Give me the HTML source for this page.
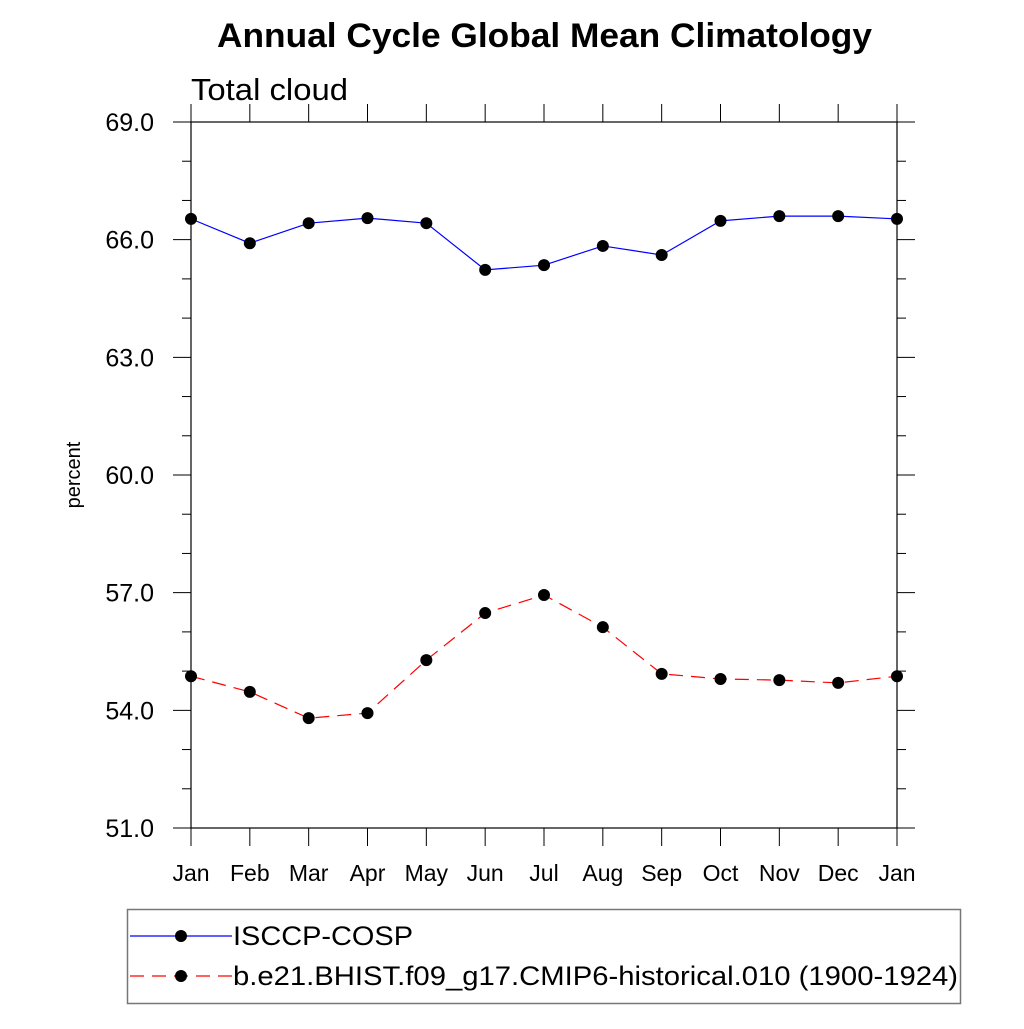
<!DOCTYPE html>
<html><head><meta charset="utf-8"><style>
html,body{margin:0;padding:0;background:#fff;}
svg text{font-family:"Liberation Sans",sans-serif;}
</style></head><body>
<svg id="chart" width="1024" height="1024" viewBox="0 0 1024 1024" xmlns="http://www.w3.org/2000/svg">
<text x="217" y="47" font-size="34" font-weight="bold" textLength="655" lengthAdjust="spacingAndGlyphs">Annual Cycle Global Mean Climatology</text>
<text x="191" y="100" font-size="31" textLength="157" lengthAdjust="spacingAndGlyphs">Total cloud</text>
<text x="80" y="475" font-size="20" text-anchor="middle" transform="rotate(-90 80 475)">percent</text>
<g id="axes"></g>
<g id="series"></g>
<g>
<rect x="127.5" y="909.5" width="833" height="94" fill="none" stroke="#777" stroke-width="1.5"/>
<g>
<line x1="130" y1="936" x2="232" y2="936" stroke="blue" stroke-width="1.2"/>
<circle cx="181" cy="936" r="6" fill="#000"/>
<text x="233" y="945" font-size="27" textLength="180" lengthAdjust="spacingAndGlyphs">ISCCP-COSP</text>
</g>
<g>
<line x1="130" y1="976" x2="232" y2="976" stroke="red" stroke-width="1.2" stroke-dasharray="14,8"/>
<circle cx="181" cy="976" r="6" fill="#000"/>
<text x="233" y="985" font-size="27" textLength="725" lengthAdjust="spacingAndGlyphs">b.e21.BHIST.f09_g17.CMIP6-historical.010 (1900-1924)</text>
</g>
</g>
</svg>
<script>
const months = ["Jan","Feb","Mar","Apr","May","Jun","Jul","Aug","Sep","Oct","Nov","Dec","Jan"];
const isccp = [66.53,65.91,66.42,66.55,66.42,65.23,65.35,65.84,65.61,66.48,66.60,66.60,66.53];
const model = [54.87,54.47,53.80,53.93,55.28,56.48,56.94,56.12,54.93,54.80,54.77,54.70,54.87];
const yTicks = [51,54,57,60,63,66,69];
const yMin = 51, yMax = 69;
const L=191,R=897,T=122,B=828;
const NS="http://www.w3.org/2000/svg";
function x(i){return L+(R-L)*i/(months.length-1);}
function y(v){return B-(B-T)*(v-yMin)/(yMax-yMin);}
function mk(tag,attrs,parent){const e=document.createElementNS(NS,tag);for(const k in attrs)e.setAttribute(k,attrs[k]);parent.appendChild(e);return e;}
const ax=document.getElementById('axes');
const frame=mk('rect',{x:L,y:T,width:R-L,height:B-T,fill:'none',stroke:'#000','stroke-width':1.2},ax);


for(let v=yMin;v<=yMax;v++){
  const major=yTicks.includes(v);const len=major?18:9;
  const yy=y(v);
  const t1=mk('line',{x1:L-len,y1:yy,x2:L,y2:yy,stroke:'#000','stroke-width':1},ax);
  
  
  const t2=mk('line',{x1:R,y1:yy,x2:R+len,y2:yy,stroke:'#000','stroke-width':1},ax);
  
  
  if(major){
    const tx=mk('text',{x:154,y:yy+9,'font-size':25,'text-anchor':'end'},ax);
    tx.textContent=v.toFixed(1);
    
    
  }
}
months.forEach((m,i)=>{
  const xx=x(i);
  const t1=mk('line',{x1:xx,y1:B,x2:xx,y2:B+18,stroke:'#000','stroke-width':1},ax);
  
  
  const t2=mk('line',{x1:xx,y1:T-18,x2:xx,y2:T,stroke:'#000','stroke-width':1},ax);
  
  
  const tx=mk('text',{x:xx,y:881,'font-size':23,'text-anchor':'middle'},ax);
  tx.textContent=m;
  
  
});
const sg=document.getElementById('series');
function drawSeries(vals,color,dash,name){
  const pts=vals.map((v,i)=>x(i)+','+y(v)).join(' ');
  const pl=mk('polyline',{points:pts,fill:'none',stroke:color,'stroke-width':1.2},sg);
  if(dash)pl.setAttribute('stroke-dasharray',dash);
  
  
  vals.forEach((v,i)=>{
    const c=mk('circle',{cx:x(i),cy:y(v),r:6,fill:'#000'},sg);
    
    
  });
}
drawSeries(isccp,'blue',null,'isccp');
drawSeries(model,'red','14,8','model');
</script>
</body></html>
